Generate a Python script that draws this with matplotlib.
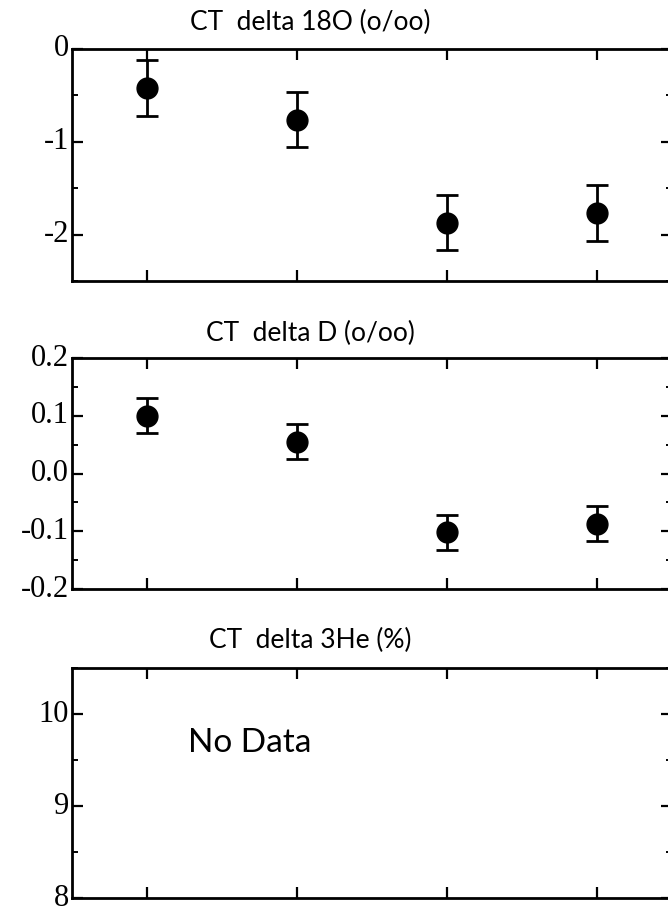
import matplotlib
matplotlib.use("Agg")
import matplotlib.pyplot as plt
from matplotlib.ticker import MultipleLocator, FormatStrFormatter

plt.rcParams['axes.unicode_minus'] = False

stations = [1, 2, 3, 4]

d18O = [-0.42, -0.76, -1.87, -1.77]
d18O_err = [0.30, 0.30, 0.30, 0.30]

dD = [0.100, 0.055, -0.102, -0.087]
dD_err = [0.030, 0.030, 0.030, 0.030]

titles = ['CT  delta 18O (o/oo)', 'CT  delta D (o/oo)', 'CT  delta 3He (%)']

fig = plt.figure(figsize=(6.68, 9.13), dpi=100)

W = 668.0
H = 913.0

def make_ax(top, bottom):
    ax = fig.add_axes([72 / W, 1 - bottom / H, 600 / W, (bottom - top) / H])
    ax.set_xlim(0.5, 4.5)
    ax.set_xticks(stations)
    ax.tick_params(axis='x', which='both', direction='in', top=True, bottom=True,
                   labelbottom=False, length=8, width=1.6)
    ax.tick_params(axis='y', which='major', direction='in', left=True, right=True,
                   length=8, width=1.6, pad=2)
    ax.tick_params(axis='y', which='minor', direction='in', left=True, right=True,
                   length=4, width=1.4)
    for s in ax.spines.values():
        s.set_linewidth(2)
    return ax

# panel 1
ax1 = make_ax(49, 281)
ax1.errorbar(stations, d18O, yerr=d18O_err, fmt='o', color='black', ms=15,
             capsize=8, elinewidth=2, capthick=2)
ax1.set_ylim(-2.5, 0)
ax1.yaxis.set_major_locator(MultipleLocator(1))
ax1.yaxis.set_minor_locator(MultipleLocator(0.5))
ax1.yaxis.set_major_formatter(FormatStrFormatter('%d'))

# panel 2
ax2 = make_ax(358, 589)
ax2.errorbar(stations, dD, yerr=dD_err, fmt='o', color='black', ms=15,
             capsize=8, elinewidth=2, capthick=2)
ax2.set_ylim(-0.2, 0.2)
ax2.yaxis.set_major_locator(MultipleLocator(0.1))
ax2.yaxis.set_minor_locator(MultipleLocator(0.05))
ax2.yaxis.set_major_formatter(FormatStrFormatter('%.1f'))

# panel 3
ax3 = make_ax(668, 898)
ax3.set_ylim(8, 10.5)
ax3.yaxis.set_major_locator(MultipleLocator(1))
ax3.yaxis.set_minor_locator(MultipleLocator(0.5))
ax3.yaxis.set_major_formatter(FormatStrFormatter('%d'))
ax3.text(1.27, 9.68, 'No Data', fontsize=24, family='Lato', va='center', ha='left')

for ax in (ax1, ax2, ax3):
    for lab in ax.get_yticklabels():
        lab.set_fontfamily('Liberation Serif')
        lab.set_fontsize(22)
        lab.set_va('center')

for t, y in zip(titles, [22, 333, 640]):
    fig.text(310 / W, 1 - y / H, t, fontsize=19, family='Lato', ha='center', va='center')

fig.savefig('out.png', dpi=100)
